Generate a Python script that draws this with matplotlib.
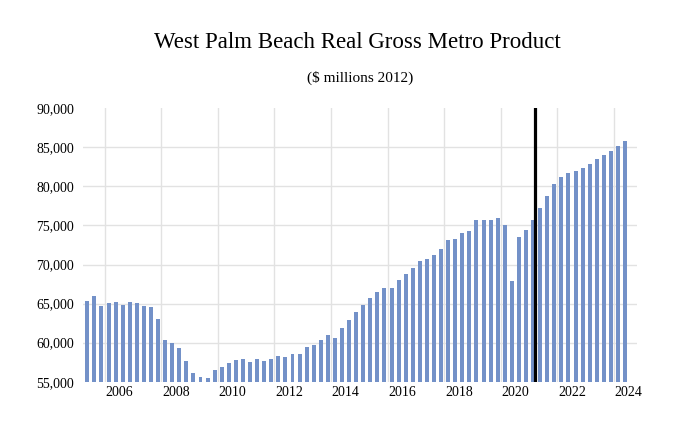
import matplotlib
matplotlib.use("Agg")
import matplotlib.pyplot as plt
import numpy as np

plt.rcParams['font.family'] = ['Liberation Serif', 'DejaVu Serif']

# Quarterly real GMP, 2005Q1 .. 2024Q1 ($ millions 2012)
values = [
    65300, 65940, 64660, 65040, 65170, 64790, 65170, 65040, 64660, 64530,
    62990, 60340, 59910, 59270, 57610, 56070, 55560, 55430, 56450, 56920,
    57390, 57740, 57910, 57480, 57910, 57650, 57910, 58290, 58120, 58550,
    58550, 59400, 59700, 60340, 60980, 60530, 61840, 62880, 63910, 64790,
    65770, 66450, 67050, 67050, 67990, 68760, 69530, 70510, 70770, 71200,
    71970, 73080, 73210, 74020, 74270, 75680, 75680, 75680, 75940, 75000,
    67860, 73500, 74400, 75680, 77220, 78760, 80260, 81200, 81670, 81970,
    82350, 82860, 83460, 84020, 84490, 85130, 85810,
]
year_labels = ['2006', '2008', '2010', '2012', '2014', '2016', '2018', '2020', '2022', '2024']
y_ticks = [55000, 60000, 65000, 70000, 75000, 80000, 85000, 90000]
forecast_start = 63.25  # position of the vertical marker (in quarter index units)

fig = plt.figure(figsize=(6.74, 4.28), dpi=100)
ax = fig.add_axes([0.1227, 0.1082, 0.8220, 0.6388])

x = np.arange(len(values))
ax.bar(x, values, width=0.56, color='#7391c8', zorder=2)

ax.set_ylim(55000, 90000)
ax.set_xlim(-0.65, 77.65)

ax.set_yticks(y_ticks)
ax.set_yticklabels([f"{v:,}" for v in y_ticks], fontsize=10)
label_pos = [4.5 + 8 * k for k in range(len(year_labels))]
ax.set_xticks(label_pos)
ax.set_xticklabels(year_labels, fontsize=10)
ax.tick_params(axis='both', length=0, pad=3)
ax.tick_params(axis='y', pad=6)

# gridlines
for v in y_ticks[1:-1]:
    ax.axhline(v, color='#e2e2e2', lw=1.0, zorder=0)
for k in range(10):
    ax.axvline(2.45 + 8 * k, color='#e2e2e2', lw=1.0, zorder=0)

ax.axvline(forecast_start, color='black', lw=2.3, zorder=3)

for s in ax.spines.values():
    s.set_visible(False)

fig.text(0.5297, 0.901, 'West Palm Beach Real Gross Metro Product', ha='center', va='center', fontsize=16.5)
fig.text(0.5341, 0.818, '($ millions 2012)', ha='center', va='center', fontsize=11)

fig.savefig('out.png', dpi=100)
